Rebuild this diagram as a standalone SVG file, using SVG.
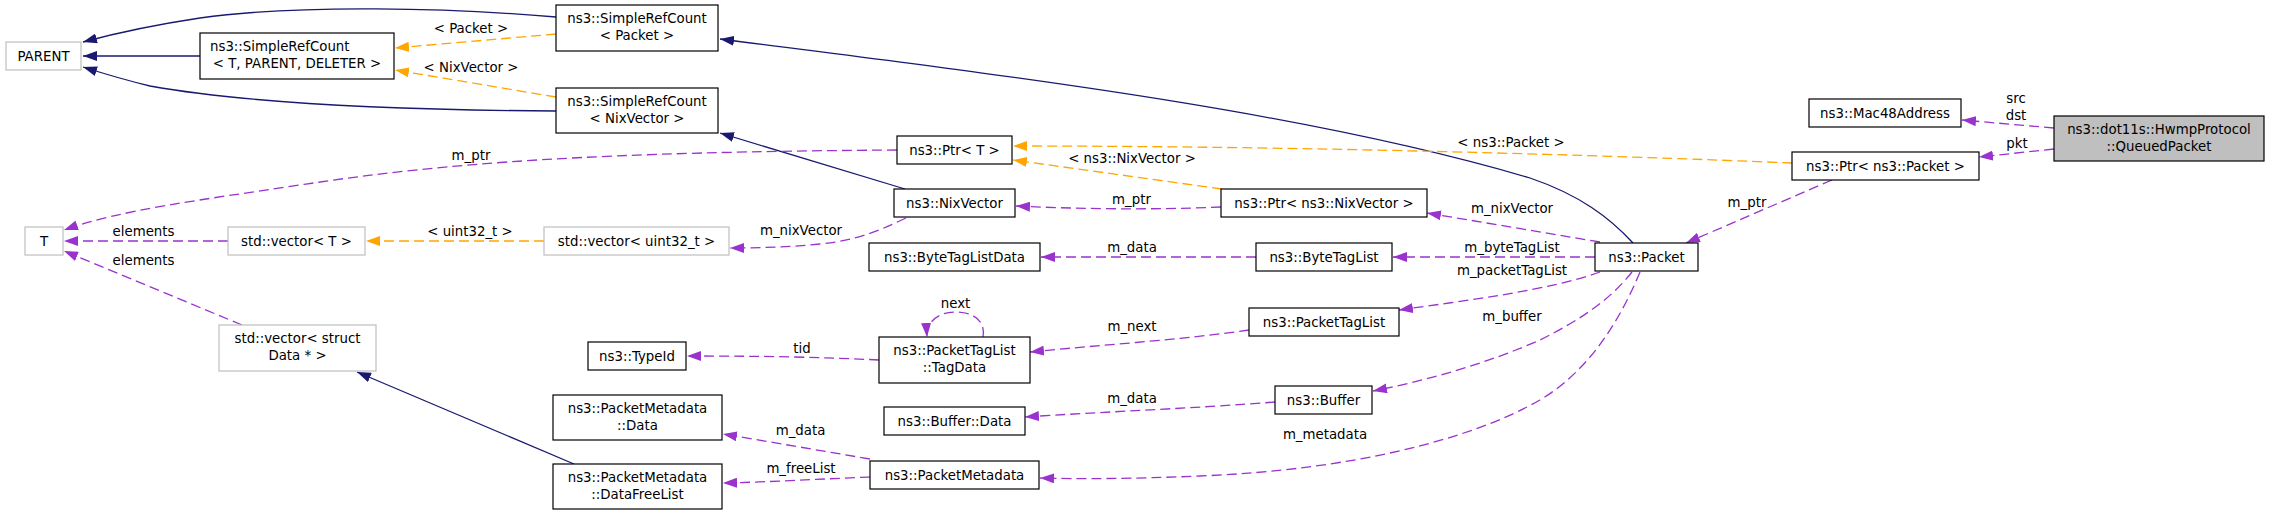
<svg xmlns="http://www.w3.org/2000/svg" width="2269" height="515" viewBox="0 0 2269 515">
<style>
text{font-family:"DejaVu Sans","Liberation Sans",sans-serif;font-size:13.33px;fill:#000}
.c{text-anchor:middle}
.n rect{fill:#fff;stroke:#000;stroke-width:1.2}
.g rect{fill:#fff;stroke:#bfbfbf;stroke-width:1.2}
.s rect{fill:#bfbfbf;stroke:#000;stroke-width:1.2}
.e path{fill:none;stroke-width:1.3}
.inh{stroke:#191970;marker-end:url(#ab)}
.mem{stroke:#9a32cd;stroke-dasharray:10,5;marker-end:url(#ap)}
.tpl{stroke:#ffa500;stroke-dasharray:10,5;marker-end:url(#ao)}
</style>
<defs>
<marker id="ab" markerUnits="userSpaceOnUse" markerWidth="14" markerHeight="10" viewBox="0 0 14 10" refX="14" refY="5" orient="auto"><path d="M0,0L14,5L0,10z" fill="#191970"/></marker>
<marker id="ap" markerUnits="userSpaceOnUse" markerWidth="14" markerHeight="10" viewBox="0 0 14 10" refX="14" refY="5" orient="auto"><path d="M0,0L14,5L0,10z" fill="#9a32cd"/></marker>
<marker id="ao" markerUnits="userSpaceOnUse" markerWidth="14" markerHeight="10" viewBox="0 0 14 10" refX="14" refY="5" orient="auto"><path d="M0,0L14,5L0,10z" fill="#ffa500"/></marker>
</defs>
<rect width="2269" height="515" fill="#fff"/>
<g id="connectors" class="e">
<path class="inh" d="M556,17 C450,8 300,4 200,18 C160,24 120,32 83,42"/>
<path class="inh" d="M200,56 L83,56"/>
<path class="inh" d="M556,111 C400,110 250,104 150,86 C125,80 105,74 83,67"/>
<path class="inh" d="M1633,243 C1610,218 1580,195 1530,178 C1300,110 1000,75 720,39"/>
<path class="inh" d="M905,189 L720,133"/>
<path class="inh" d="M574,464 L357,372"/>
<path class="tpl" d="M556,34 L395,48"/>
<path class="tpl" d="M556,97 L395,70"/>
<path class="tpl" d="M544,241 L366,241"/>
<path class="tpl" d="M1222,189 L1013,160"/>
<path class="tpl" d="M1792,163 C1600,155 1300,146 1013,146"/>
<path class="mem" d="M897,150 C600,152 450,162 300,185 C200,200 120,210 64,230"/>
<path class="mem" d="M228,241 L64,241"/>
<path class="mem" d="M242,325 L64,251"/>
<path class="mem" d="M906,218 C880,230 860,240 820,244 C790,247 760,248 730,248"/>
<path class="mem" d="M1221,207 C1150,210 1080,209 1016,206"/>
<path class="mem" d="M1600,242 L1427,213"/>
<path class="mem" d="M1595,257 L1393,257"/>
<path class="mem" d="M1256,257 L1041,257"/>
<path class="mem" d="M1600,272 C1550,290 1470,300 1399,310"/>
<path class="mem" d="M1249,330 C1180,340 1100,345 1030,352"/>
<path class="mem" d="M983,337 C986,320 972,312 956,312 C938,312 926,322 927,337"/>
<path class="mem" d="M879,360 C820,357 760,356 687,356"/>
<path class="mem" d="M1632,272 C1610,300 1580,320 1540,340 C1490,362 1430,380 1373,391"/>
<path class="mem" d="M1275,402 C1200,408 1100,412 1025,417"/>
<path class="mem" d="M1640,272 C1620,320 1590,370 1540,400 C1470,440 1350,470 1200,476 C1130,479 1080,479 1040,478"/>
<path class="mem" d="M870,459 L723,434"/>
<path class="mem" d="M870,477 C820,479 770,482 723,483"/>
<path class="mem" d="M1832,180 L1686,243"/>
<path class="mem" d="M2054,128 L1962,120"/>
<path class="mem" d="M2054,149 L1979,157"/>
<text class="c" x="471" y="33">&lt; Packet &gt;</text>
<text class="c" x="471" y="72">&lt; NixVector &gt;</text>
<text class="c" x="471" y="160">m_ptr</text>
<text class="c" x="143.5" y="236">elements</text>
<text class="c" x="143.5" y="265">elements</text>
<text class="c" x="470" y="236">&lt; uint32_t &gt;</text>
<text class="c" x="801" y="235">m_nixVector</text>
<text class="c" x="1132" y="163">&lt; ns3::NixVector &gt;</text>
<text class="c" x="1511" y="147">&lt; ns3::Packet &gt;</text>
<text class="c" x="1131.5" y="204">m_ptr</text>
<text class="c" x="1132" y="252">m_data</text>
<text class="c" x="955.5" y="308">next</text>
<text class="c" x="1132" y="331">m_next</text>
<text class="c" x="802" y="353">tid</text>
<text class="c" x="1132" y="403">m_data</text>
<text class="c" x="800.5" y="435">m_data</text>
<text class="c" x="801" y="473">m_freeList</text>
<text class="c" x="1325" y="439">m_metadata</text>
<text class="c" x="1512" y="213">m_nixVector</text>
<text class="c" x="1512" y="252">m_byteTagList</text>
<text class="c" x="1512" y="275">m_packetTagList</text>
<text class="c" x="1512" y="321">m_buffer</text>
<text class="c" x="1747" y="207">m_ptr</text>
<text class="c" x="2016" y="103">src</text>
<text class="c" x="2016" y="120">dst</text>
<text class="c" x="2017" y="148">pkt</text>
</g>
<g id="parent" class="g"><rect x="6" y="42" width="75" height="28"/><text class="c" x="43.5" y="61">PARENT</text></g>
<g id="srcTPD" class="n"><rect x="200" y="33" width="194" height="46"/><text x="210" y="51">ns3::SimpleRefCount</text><text class="c" x="297" y="67.5">&lt; T, PARENT, DELETER &gt;</text></g>
<g id="srcPacket" class="n"><rect x="556" y="5" width="162" height="46"/><text class="c" x="637" y="23">ns3::SimpleRefCount</text><text class="c" x="637" y="39.5">&lt; Packet &gt;</text></g>
<g id="srcNixVector" class="n"><rect x="556" y="88" width="162" height="45"/><text class="c" x="637" y="106">ns3::SimpleRefCount</text><text class="c" x="637" y="122.5">&lt; NixVector &gt;</text></g>
<g id="T" class="g"><rect x="25" y="227" width="38" height="28"/><text class="c" x="44" y="246">T</text></g>
<g id="vectorT" class="g"><rect x="228" y="227" width="137" height="28"/><text class="c" x="296.5" y="246">std::vector&lt; T &gt;</text></g>
<g id="vectorUint32" class="g"><rect x="544" y="227" width="185" height="28"/><text class="c" x="636.5" y="246">std::vector&lt; uint32_t &gt;</text></g>
<g id="vectorStructData" class="g"><rect x="219" y="325" width="157" height="46"/><text class="c" x="297.5" y="343">std::vector&lt; struct</text><text class="c" x="297.5" y="359.5">Data * &gt;</text></g>
<g id="typeId" class="n"><rect x="588" y="342" width="98" height="28"/><text class="c" x="637" y="361">ns3::TypeId</text></g>
<g id="pmData" class="n"><rect x="553" y="395" width="169" height="45"/><text class="c" x="637.5" y="413">ns3::PacketMetadata</text><text class="c" x="637.5" y="429.5">::Data</text></g>
<g id="pmDataFreeList" class="n"><rect x="553" y="464" width="169" height="45"/><text class="c" x="637.5" y="482">ns3::PacketMetadata</text><text class="c" x="637.5" y="498.5">::DataFreeList</text></g>
<g id="ptrT" class="n"><rect x="897" y="136" width="115" height="28"/><text class="c" x="954.5" y="155">ns3::Ptr&lt; T &gt;</text></g>
<g id="nixVector" class="n"><rect x="894" y="189" width="121" height="28"/><text class="c" x="954.5" y="208">ns3::NixVector</text></g>
<g id="byteTagListData" class="n"><rect x="869" y="243" width="171" height="28"/><text class="c" x="954.5" y="262">ns3::ByteTagListData</text></g>
<g id="tagData" class="n"><rect x="879" y="337" width="151" height="46"/><text class="c" x="954.5" y="355">ns3::PacketTagList</text><text class="c" x="954.5" y="371.5">::TagData</text></g>
<g id="bufferData" class="n"><rect x="884" y="407" width="141" height="28"/><text class="c" x="954.5" y="426">ns3::Buffer::Data</text></g>
<g id="packetMetadata" class="n"><rect x="870" y="461" width="169" height="28"/><text class="c" x="954.5" y="480">ns3::PacketMetadata</text></g>
<g id="ptrNixVector" class="n"><rect x="1221" y="189" width="206" height="28"/><text class="c" x="1324" y="208">ns3::Ptr&lt; ns3::NixVector &gt;</text></g>
<g id="byteTagList" class="n"><rect x="1256" y="243" width="136" height="28"/><text class="c" x="1324" y="262">ns3::ByteTagList</text></g>
<g id="packetTagList" class="n"><rect x="1249" y="308" width="150" height="28"/><text class="c" x="1324" y="327">ns3::PacketTagList</text></g>
<g id="buffer" class="n"><rect x="1275" y="386" width="97" height="28"/><text class="c" x="1323.5" y="405">ns3::Buffer</text></g>
<g id="packet" class="n"><rect x="1595" y="243" width="103" height="28"/><text class="c" x="1646.5" y="262">ns3::Packet</text></g>
<g id="mac48Address" class="n"><rect x="1809" y="99" width="152" height="28"/><text class="c" x="1885" y="118">ns3::Mac48Address</text></g>
<g id="ptrPacket" class="n"><rect x="1792" y="152" width="187" height="28"/><text class="c" x="1885.5" y="171">ns3::Ptr&lt; ns3::Packet &gt;</text></g>
<g id="queuedPacket" class="s"><rect x="2054" y="116" width="210" height="45"/><text class="c" x="2159" y="134">ns3::dot11s::HwmpProtocol</text><text class="c" x="2159" y="150.5">::QueuedPacket</text></g>
</svg>
